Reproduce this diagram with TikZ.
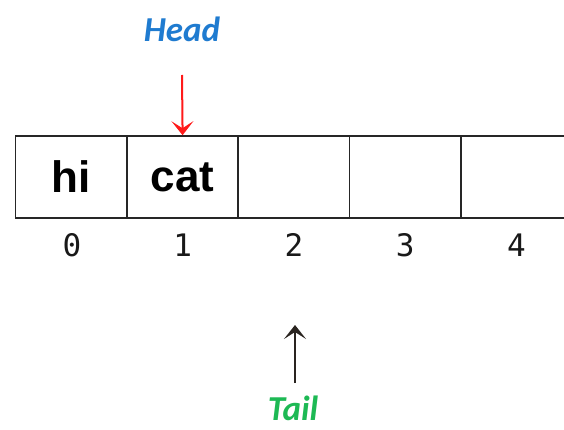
\documentclass[tikz,border=0pt]{standalone}
\usepackage{fontspec}
\usetikzlibrary{arrows.meta}
\newfontfamily\calibfont{Carlito}
\newfontfamily\arialfont{Liberation Sans}
\newfontfamily\monofont{DejaVu Sans Mono}
\definecolor{headblue}{HTML}{1F7BD0}
\definecolor{tailgreen}{HTML}{1DB954}
\definecolor{ptrred}{HTML}{FF1A1A}
\definecolor{ptrdark}{HTML}{2A2420}
\tikzset{
  cell/.style={draw=black!85, line width=1.6pt, minimum width=111.3pt, minimum height=82pt, inner sep=0pt, font=\arialfont\bfseries\fontsize{44}{44}\selectfont},
  idx/.style={inner sep=0pt, font=\monofont\fontsize{31}{31}\selectfont, text=black!90},
  ptrlabel/.style={inner sep=0pt, font=\calibfont\bfseries\itshape\fontsize{35}{35}\selectfont},
  ptr/.style={line width=2pt, -{Stealth[length=14pt,width=22pt,inset=7pt]}}
}
\begin{document}
\begin{tikzpicture}[x=1pt,y=1pt]
\useasboundingbox (0,0) rectangle (564,429);
\clip (0,0) rectangle (564,429);
\fill[white] (0,0) rectangle (564,429);
\node[cell] (c0) at (71.3,252) {hi};
\node[cell] (c1) at (182.6,252) {cat};
\node[cell] (c2) at (293.9,252) {};
\node[cell] (c3) at (405.2,252) {};
\node[cell] (c4) at (516.5,252) {};
\node[idx] (i0) at (72,184) {0};
\node[idx] (i1) at (182.6,184) {1};
\node[idx] (i2) at (293.9,184) {2};
\node[idx] (i3) at (405.2,184) {3};
\node[idx] (i4) at (516.5,184) {4};
\node[ptrlabel, text=headblue] (head) at (182,400) {Head};
\node[ptrlabel, text=tailgreen] (tail) at (293,21) {Tail};
\coordinate (headstart) at (182,354);
\coordinate (tailstart) at (295,46);
\coordinate (tailend) at (295,104);
\draw[ptr, ptrred] (headstart) -- (c1.north);
\draw[ptr, ptrdark] (tailstart) -- (tailend);
\end{tikzpicture}
\end{document}
